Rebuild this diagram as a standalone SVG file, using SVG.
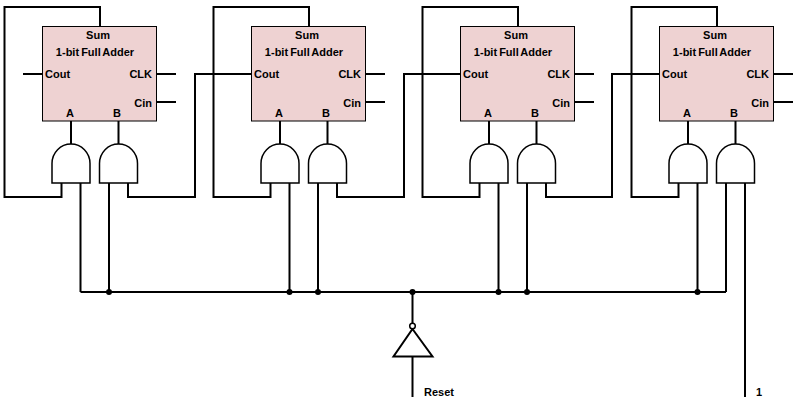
<svg xmlns="http://www.w3.org/2000/svg" width="800" height="420" viewBox="0 0 800 420">
<style>
.w{fill:none;stroke:#000;stroke-width:2}
.b{fill:#eed2d2;stroke:#000;stroke-width:1}
.g{fill:#fff;stroke:#000;stroke-width:1.5}
text{font-family:"Liberation Sans",Arial,sans-serif;font-size:11px;font-weight:bold;fill:#000}
.m{text-anchor:middle}.e{text-anchor:end}
.t{word-spacing:-1px}
</style>
<defs>
<g id="adder">
<rect class="b" x="42.5" y="26.5" width="114" height="94.5"/>
<text class="m" x="98" y="39">Sum</text>
<text class="m t" x="95" y="56">1-bit Full Adder</text>
<text x="45" y="78">Cout</text>
<text class="e" x="152" y="78">CLK</text>
<text class="e" x="152" y="107">Cin</text>
<text class="m" x="70" y="117">A</text>
<text class="m" x="117" y="117">B</text>
</g>
<path id="and" class="g" d="M52 183V163.500A19 19.500 0 0 1 90 163.500V183Z"/>
</defs>
<g id="connectors">
<path class="w" d="M61.500 183V197H4.500V7H100V26.500M71 121V144M118.500 121V144M128 183V197H195V74H251M80.500 183V292M109 183V292M23 74H42.500M156.500 74H176M156.500 102H176"/>
<path class="w" d="M270.500 183V197H213.500V7H309V26.500M280 121V144M327.500 121V144M337 183V197H404V74H460M289.500 183V292M318 183V292M365.500 74H385M365.500 102H385"/>
<path class="w" d="M479.500 183V197H422.500V7H518V26.500M489 121V144M536.500 121V144M546 183V197H612V74H659M498.500 183V292M527 183V292M574.500 74H594M574.500 102H594"/>
<path class="w" d="M678.500 183V197H631.500V7H717V26.500M688 121V144M735.500 121V144M697.500 183V292M726 183V292M745 183V397M773.500 74H793M773.500 102H793"/>
<path class="w" d="M80.500 292H726M412.500 292V323M412.500 357V397"/>
<g fill="#000"><circle cx="109" cy="292" r="3"/><circle cx="289.500" cy="292" r="3"/><circle cx="318" cy="292" r="3"/><circle cx="412.500" cy="292" r="3"/><circle cx="498.500" cy="292" r="3"/><circle cx="527" cy="292" r="3"/><circle cx="697.500" cy="292" r="3"/></g>
</g>
<g id="adder1"><use href="#adder"/></g>
<g id="adder2"><use href="#adder" x="209"/></g>
<g id="adder3"><use href="#adder" x="418"/></g>
<g id="adder4"><use href="#adder" x="617"/></g>
<g id="and1a"><use href="#and"/></g>
<g id="and1b"><use href="#and" x="47.500"/></g>
<g id="and2a"><use href="#and" x="209"/></g>
<g id="and2b"><use href="#and" x="256.500"/></g>
<g id="and3a"><use href="#and" x="418"/></g>
<g id="and3b"><use href="#and" x="465.500"/></g>
<g id="and4a"><use href="#and" x="617"/></g>
<g id="and4b"><use href="#and" x="664.500"/></g>
<g id="inverter">
<path class="w" d="M412.500 329L432.500 356.500H393.500Z"/>
<circle cx="412.500" cy="326" r="2.800" fill="#fff" stroke="#000" stroke-width="1.500"/>
</g>
<g id="reset"><text x="424" y="396">Reset</text></g>
<g id="one"><text x="756" y="396">1</text></g>
</svg>
